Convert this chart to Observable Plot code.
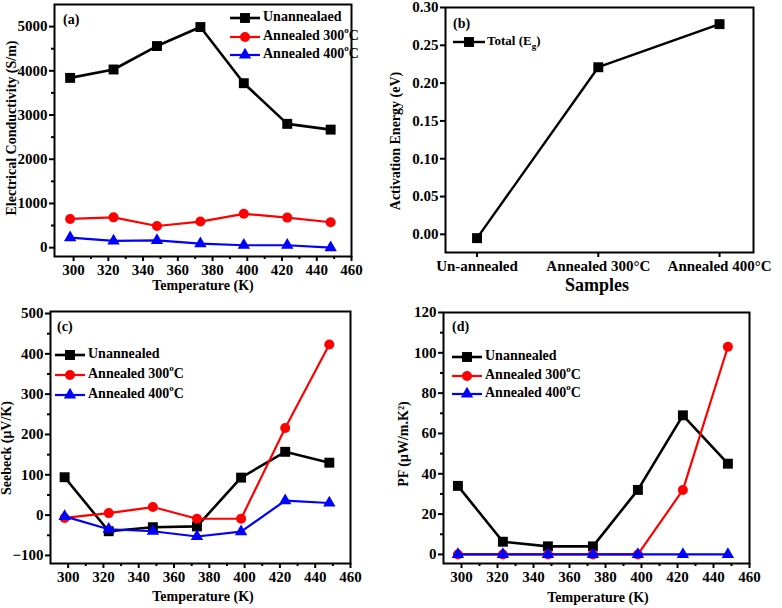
<!DOCTYPE html>
<html><head><meta charset="utf-8">
<script src="https://cdn.jsdelivr.net/npm/d3@7"></script>
<script src="https://cdn.jsdelivr.net/npm/@observablehq/plot@0.6"></script>
<style>
body{margin:0;background:#fff;}
#root{position:relative;width:782px;height:608px;overflow:hidden;background:#fff;}
.panel{position:absolute;}
</style></head><body><div id="root"></div>
<script>
// ---------- data ----------
const temperatures = [298, 323, 348, 373, 398, 423, 448];
const condUnannealed = [3840, 4030, 4560, 4990, 3720, 2800, 2670];
const condAnn300 = [650, 685, 490, 590, 765, 680, 575];
const condAnn400 = [225, 155, 165, 90, 55, 55, 0];

const sampleNames = ["Un-annealed", "Annealed 300°C", "Annealed 400°C"];
const activationEnergy = [-0.005, 0.221, 0.278];

const seebeckUnannealed = [94, -40, -30, -28, 93, 157, 130];
const seebeckAnn300 = [-7, 5, 20, -9, -9, 216, 423];
const seebeckAnn400 = [-3, -35, -40, -53, -41, 36, 30];

const pfUnannealed = [34, 6.3, 4, 4, 32, 69, 45];
const pfAnn300 = [0, 0, 0, 0, 0, 32, 103];
const pfAnn400 = [0, 0, 0, 0, 0, 0, 0];

const tempTicks = [300, 320, 340, 360, 380, 400, 420, 440, 460];
const tempMinorTicks = [310, 330, 350, 370, 390, 410, 430, 450];
const condTicks = [0, 1000, 2000, 3000, 4000, 5000];
const condMinorTicks = [500, 1500, 2500, 3500, 4500];
const energyTicks = [0, 0.05, 0.10, 0.15, 0.20, 0.25, 0.30];
const seebeckTicks = [-100, 0, 100, 200, 300, 400, 500];
const seebeckMinorTicks = [-50, 50, 150, 250, 350, 450];
const pfTicks = [0, 20, 40, 60, 80, 100, 120];
const pfMinorTicks = [10, 30, 50, 70, 90, 110];

const seriesStyles = [
  {color: "#000000", symbol: "square", r: 5.6, d3sym: d3.symbolSquare},
  {color: "#ff0000", symbol: "circle", r: 5, d3sym: d3.symbolCircle},
  {color: "#0000ff", symbol: "triangle", r: 4.6, d3sym: d3.symbolTriangle}
];
const legendA = ["Unannealaed", "Annealed 300", "Annealed 400"];
const legendCD = ["Unannealed", "Annealed 300", "Annealed 400"];

const FONT = "Liberation Serif";
const root = document.getElementById("root");

function toRows(ys) { return temperatures.map((t, i) => ({x: t, y: ys[i]})); }

function seriesMarks(seriesList) {
  const marks = [];
  seriesList.forEach((ys, k) => {
    const s = seriesStyles[k];
    const rows = toRows(ys);
    marks.push(Plot.line(rows, {x: "x", y: "y", stroke: s.color, strokeWidth: k === 0 ? 2.6 : 2.2}));
    marks.push(Plot.dot(rows, {x: "x", y: "y", symbol: () => s.symbol, fill: s.color, stroke: "none", r: s.r}));
  });
  return marks;
}

const axisFont = {fontFamily: FONT, fontWeight: "bold", fontSize: 15, label: null, strokeWidth: 2};

function axes(xTicks, xMinor, yTicks, yMinor, yFmt) {
  const m = [
    Plot.axisX({...axisFont, ticks: xTicks, tickSize: 5, tickPadding: 3, tickFormat: d3.format("d")}),
    Plot.axisY({...axisFont, ticks: yTicks, tickSize: 5, tickPadding: 2, tickFormat: yFmt || d3.format("d")})
  ];
  if (xMinor) m.push(Plot.axisX({...axisFont, ticks: xMinor, tickSize: 3, tickFormat: () => ""}));
  if (yMinor) m.push(Plot.axisY({...axisFont, ticks: yMinor, tickSize: 3, tickFormat: () => ""}));
  return m;
}

function place(svg, left, top) {
  svg.classList.add("panel");
  svg.style.left = left + "px";
  svg.style.top = top + "px";
  root.appendChild(svg);
  const sel = d3.select(svg);
  sel.selectAll("text, tspan")
    .style("font-family", "'Liberation Serif', serif")
    .style("font-weight", "bold")
    .style("font-size", "15px");
  return sel;
}

function addText(sel, x, y, str, opts = {}) {
  const t = sel.append("text").attr("x", x).attr("y", y)
    .attr("font-family", FONT).attr("font-weight", "bold")
    .attr("font-size", opts.size || 14).attr("fill", "#000")
    .attr("text-anchor", opts.anchor || "start")
    .attr("dominant-baseline", "middle");
  if (opts.rotate) t.attr("transform", `rotate(-90 ${x} ${y})`);
  t.text(str);
  return t;
}

function addLegend(sel, x0, x1, ys, names, size) {
  names.forEach((name, k) => {
    const s = seriesStyles[k];
    const y = ys[k];
    sel.append("line").attr("x1", x0).attr("x2", x1).attr("y1", y).attr("y2", y)
      .attr("stroke", s.color).attr("stroke-width", k === 0 ? 2.6 : 2.2);
    sel.append("path").attr("transform", `translate(${(x0 + x1) / 2},${y})`)
      .attr("d", d3.symbol(s.d3sym, Math.PI * s.r * s.r)()).attr("fill", s.color);
    const t = addText(sel, x1 + 3, y, "", {size: size || 14});
    t.append("tspan").text(name);
    if (k > 0) {
      t.append("tspan").attr("font-size", 9).attr("dy", -6).text("o");
      t.append("tspan").attr("dy", 6).text("C");
    }
  });
}

const baseStyle = {fontFamily: FONT, fontSize: "15px", fontWeight: "bold", color: "#000", background: "transparent", overflow: "visible"};

// ---------- (a) ----------
{
  const svg = Plot.plot({
    width: 391, height: 300,
    marginLeft: 54, marginRight: 40, marginTop: 4, marginBottom: 44,
    style: baseStyle,
    x: {domain: [289, 460]},
    y: {domain: [-200, 5500]},
    marks: [
      ...axes(tempTicks, tempMinorTicks, condTicks, condMinorTicks),
      ...seriesMarks([condUnannealed, condAnn300, condAnn400]),
      Plot.frame({strokeWidth: 2})
    ]
  });
  const sel = place(svg, 0, 0);
  addText(sel, 63, 21, "(a)");
  addLegend(sel, 230, 260, [18, 37, 55], legendA);
  addText(sel, 13, 128, "Electrical Conductivity (S/m)", {anchor: "middle", rotate: true});
  addText(sel, 203, 287, "Temperature (K)", {anchor: "middle"});
}

// ---------- (b) ----------
{
  const rows = activationEnergy.map((v, i) => ({x: i, y: v}));
  const svg = Plot.plot({
    width: 391, height: 300,
    marginLeft: 54, marginRight: 29, marginTop: 7, marginBottom: 48,
    style: baseStyle,
    x: {domain: [-0.26, 2.28]},
    y: {domain: [-0.024, 0.30]},
    marks: [
      Plot.axisX({...axisFont, ticks: [0, 1, 2], tickFormat: i => sampleNames[i], tickSize: 5, tickPadding: 3}),
      Plot.axisY({...axisFont, ticks: energyTicks, tickFormat: d3.format(".2f"), tickSize: 5, tickPadding: 2}),
      Plot.line(rows, {x: "x", y: "y", stroke: "#000", strokeWidth: 2.4}),
      Plot.dot(rows, {x: "x", y: "y", symbol: () => "square", fill: "#000", stroke: "none", r: 5.6}),
      Plot.frame({strokeWidth: 2})
    ]
  });
  const sel = place(svg, 391, 0);
  addText(sel, 62, 25, "(b)");
  sel.append("line").attr("x1", 62).attr("x2", 94).attr("y1", 42).attr("y2", 42).attr("stroke", "#000").attr("stroke-width", 2.4);
  sel.append("path").attr("transform", "translate(78,42)").attr("d", d3.symbol(d3.symbolSquare, Math.PI * 5.6 * 5.6)()).attr("fill", "#000");
  const t = addText(sel, 96, 42, "", {size: 13});
  t.append("tspan").text("Total (E");
  t.append("tspan").attr("font-size", 9).attr("dy", 5).text("g");
  t.append("tspan").attr("dy", -5).text(")");
  addText(sel, 6, 141, "Activation Energy (eV)", {anchor: "middle", rotate: true});
  addText(sel, 206, 287, "Samples", {anchor: "middle", size: 18});
}

// ---------- (c) ----------
{
  const svg = Plot.plot({
    width: 391, height: 308,
    marginLeft: 50, marginRight: 41, marginTop: 11, marginBottom: 45,
    style: baseStyle,
    x: {domain: [290, 460]},
    y: {domain: [-120, 505]},
    marks: [
      ...axes(tempTicks, tempMinorTicks, seebeckTicks, seebeckMinorTicks),
      ...seriesMarks([seebeckUnannealed, seebeckAnn300, seebeckAnn400]),
      Plot.frame({strokeWidth: 2})
    ]
  });
  const sel = place(svg, 0, 300);
  addText(sel, 57, 28, "(c)");
  addLegend(sel, 55, 85, [55, 75, 95], legendCD);
  addText(sel, 8, 148, "Seebeck (μV/K)", {anchor: "middle", rotate: true});
  addText(sel, 203, 298, "Temperature (K)", {anchor: "middle"});
}

// ---------- (d) ----------
{
  const svg = Plot.plot({
    width: 391, height: 308,
    marginLeft: 52, marginRight: 33, marginTop: 12, marginBottom: 45,
    style: baseStyle,
    x: {domain: [290, 460]},
    y: {domain: [-4.5, 120]},
    marks: [
      ...axes(tempTicks, tempMinorTicks, pfTicks, pfMinorTicks),
      ...seriesMarks([pfUnannealed, pfAnn300, pfAnn400]),
      Plot.frame({strokeWidth: 2})
    ]
  });
  const sel = place(svg, 391, 300);
  addText(sel, 61, 28, "(d)");
  addLegend(sel, 61, 91, [57, 76, 94], legendCD);
  addText(sel, 14, 144, "PF (μW/m.K²)", {anchor: "middle", rotate: true});
  addText(sel, 207, 299, "Temperature (K)", {anchor: "middle"});
}
</script>
</body></html>
